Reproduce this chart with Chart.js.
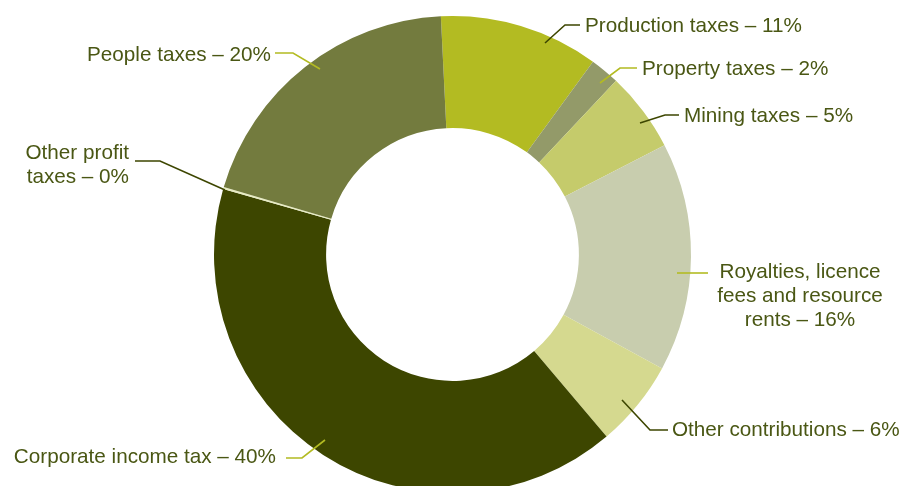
<!DOCTYPE html>
<html>
<head>
<meta charset="utf-8">
<script src="https://cdn.jsdelivr.net/npm/chart.js@4"></script>
<style>
  html,body{margin:0;padding:0;background:#fff;overflow:hidden;}
  #wrap{width:919px;height:486px;overflow:hidden;}
</style>
</head>
<body>
<div id="wrap"><canvas id="chartTax" width="919" height="493"></canvas></div>
<script>
// data (searah jarum jam mulai dari atas)
const categories=['Production taxes','Property taxes','Mining taxes','Royalties, licence fees and resource rents','Other contributions','Corporate income tax','Other profit taxes','People taxes'];
const shares=[10.8,2.0,5.4,15.5,5.9,40.6,0.15,19.65];
const shareLabels=['11%','2%','5%','16%','6%','40%','0%','20%'];
const colors=['#b3bb22','#939a69','#c5cb6b','#c8cdae','#d5d98f','#3d4600','#e8ecc2','#737b3e'];

// posisi label + garis penunjuk (titik mulai, siku, ujung, teks)
const dark='#3d4600', lime='#b3bb22', txt='#4a5714';
const callouts=[
  {pts:[[545,43],[565,25],[580,25]], line:dark, x:585, y:26, align:'left', text:['Production taxes – 11%']},
  {pts:[[600,83],[620,68],[637,68]], line:lime, x:642, y:69, align:'left', text:['Property taxes – 2%']},
  {pts:[[640,123],[665,115],[679,115]], line:dark, x:684, y:116, align:'left', text:['Mining taxes – 5%']},
  {pts:[[677,273],[708,273]], line:lime, x:800, y:272, align:'center', text:['Royalties, licence','fees and resource','rents – 16%']},
  {pts:[[622,400],[650,430],[668,430]], line:dark, x:672, y:430, align:'left', text:['Other contributions – 6%']},
  {pts:[[325,440],[302,458],[286,458]], line:lime, x:276, y:457, align:'right', text:['Corporate income tax – 40%']},
  {pts:[[225,190],[160,161],[135,161]], line:dark, x:129, y:153, align:'right', text:['Other profit','taxes – 0%']},
  {pts:[[320,69],[293,53],[275,53]], line:lime, x:271, y:55, align:'right', text:['People taxes – 20%']}
];

const calloutPlugin={
  id:'callouts',
  afterDraw(chart){
    const c=chart.ctx;
    c.save();
    callouts.forEach(o=>{
      c.beginPath();
      o.pts.forEach((p,i)=>i?c.lineTo(p[0],p[1]):c.moveTo(p[0],p[1]));
      c.strokeStyle=o.line; c.lineWidth=1.6; c.stroke();
      c.fillStyle=txt;
      c.font='20.7px "Liberation Sans", Arial, sans-serif';
      c.textAlign=o.align; c.textBaseline='middle';
      o.text.forEach((t,i)=>c.fillText(t,o.x,o.y+i*24));
    });
    c.restore();
  }
};

new Chart(document.getElementById('chartTax'),{
  type:'doughnut',
  data:{labels:categories, datasets:[{data:shares, backgroundColor:colors, borderWidth:0}]},
  options:{
    responsive:false,
    animation:false,
    rotation:-2.8,
    cutout:'53%',
    layout:{padding:{top:16,bottom:0,left:0,right:14}},
    plugins:{legend:{display:false},tooltip:{enabled:false}}
  },
  plugins:[calloutPlugin]
});
</script>
</body>
</html>
